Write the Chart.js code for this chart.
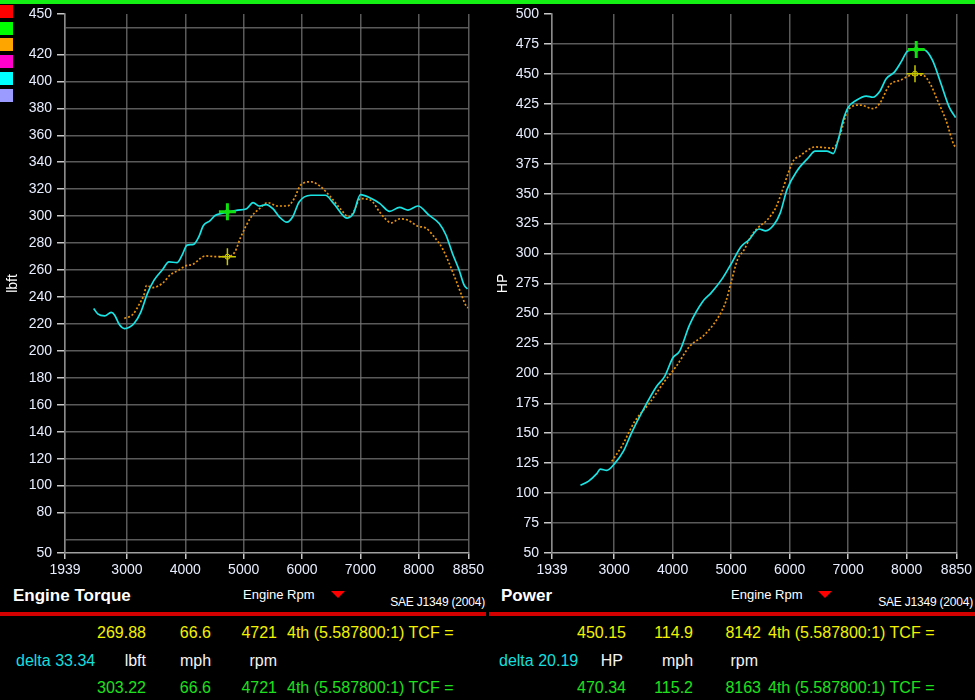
<!DOCTYPE html>
<html>
<head>
<meta charset="utf-8">
<script src="https://cdn.jsdelivr.net/npm/chart.js@4.4.1/dist/chart.umd.min.js"></script>
<style>
  html, body { margin: 0; padding: 0; background: #000; }
  body { width: 975px; height: 700px; position: relative; overflow: hidden;
         font-family: "Liberation Sans", Arial, sans-serif; }
  canvas { position: absolute; top: 0; }
  .t { position: absolute; white-space: nowrap; line-height: 1; font-size: 16px; }
  .y { color: #f2f200; }
  .g { color: #1ee01e; }
  .c { color: #12dede; }
  .w { color: #f4f4f4; }
  .head { font-size: 17px; font-weight: bold; color: #fff; }
  .small { font-size: 13px; color: #fff; }
  .sae { font-size: 12px; color: #fff; letter-spacing: -0.2px; }
  .tri { position: absolute; width: 0; height: 0; border-left: 7px solid transparent;
         border-right: 7px solid transparent; border-top: 7px solid #f00; }
  .bar { position: absolute; background: #d40000; height: 4px; top: 612px; }
  .sq { position: absolute; left: 0; width: 13px; height: 13px; }
</style>
</head>
<body>
<canvas id="torqueChart" width="487" height="585" style="left:0"></canvas>
<canvas id="powerChart" width="488" height="585" style="left:487px"></canvas>

<div style="position:absolute;left:0;top:0;width:975px;height:4px;background:#14f014"></div>
<div class="sq" style="top:5px;background:#ff0000"></div>
<div class="sq" style="top:22px;background:#00ff00"></div>
<div class="sq" style="top:38px;background:#ffa500"></div>
<div class="sq" style="top:55px;background:#ff00cc"></div>
<div class="sq" style="top:72px;background:#00ffff"></div>
<div class="sq" style="top:89px;background:#9a9aff"></div>

<!-- left footer -->
<div class="t head" style="left:13px;top:587px">Engine Torque</div>
<div class="t small" style="left:243px;top:588px">Engine Rpm</div>
<div class="tri" style="left:331px;top:591px"></div>
<div class="t sae" style="right:490px;top:596px">SAE J1349 (2004)</div>
<div class="bar" style="left:0;width:486px"></div>
<div class="t y" style="right:829px;top:625px">269.88</div>
<div class="t y" style="right:764px;top:625px">66.6</div>
<div class="t y" style="right:698px;top:625px">4721</div>
<div class="t y" style="left:287px;top:625px">4th (5.587800:1) TCF =</div>
<div class="t c" style="left:16px;top:653px">delta 33.34</div>
<div class="t w" style="right:829px;top:653px">lbft</div>
<div class="t w" style="left:180px;top:653px">mph</div>
<div class="t w" style="right:698px;top:653px">rpm</div>
<div class="t g" style="right:829px;top:680px">303.22</div>
<div class="t g" style="right:764px;top:680px">66.6</div>
<div class="t g" style="right:698px;top:680px">4721</div>
<div class="t g" style="left:287px;top:680px">4th (5.587800:1) TCF =</div>

<!-- right footer -->
<div class="t head" style="left:501px;top:587px">Power</div>
<div class="t small" style="left:731px;top:588px">Engine Rpm</div>
<div class="tri" style="left:818px;top:591px"></div>
<div class="t sae" style="right:2px;top:596px">SAE J1349 (2004)</div>
<div class="bar" style="left:489px;width:486px"></div>
<div class="t y" style="right:349px;top:625px">450.15</div>
<div class="t y" style="right:282px;top:625px">114.9</div>
<div class="t y" style="right:214px;top:625px">8142</div>
<div class="t y" style="left:768px;top:625px">4th (5.587800:1) TCF =</div>
<div class="t c" style="left:499px;top:653px">delta 20.19</div>
<div class="t w" style="right:352px;top:653px">HP</div>
<div class="t w" style="left:662px;top:653px">mph</div>
<div class="t w" style="right:217px;top:653px">rpm</div>
<div class="t g" style="right:349px;top:680px">470.34</div>
<div class="t g" style="right:282px;top:680px">115.2</div>
<div class="t g" style="right:214px;top:680px">8163</div>
<div class="t g" style="left:768px;top:680px">4th (5.587800:1) TCF =</div>

<script>
// axis ticks
const rpmTicks = [1939, 3000, 4000, 5000, 6000, 7000, 8000, 8850];
const torqueTicks = [50, 60, 80, 100, 120, 140, 160, 180, 200, 220, 240, 260, 280, 300,
                     320, 340, 360, 380, 400, 420, 440, 450];
const torqueHiddenLabels = [60, 440];
const powerTicks = [50, 75, 100, 125, 150, 175, 200, 225, 250, 275, 300, 325, 350, 375,
                    400, 425, 450, 475, 500];

// torque run (cyan, solid)
const torqueRpmCyan = [2430, 2500, 2620, 2730, 2790, 2870, 2960, 3040, 3125, 3240, 3350, 3465,
  3605, 3720, 3860, 3945, 4030, 4140, 4230, 4310, 4420, 4510, 4620, 4720, 4900, 5050, 5160,
  5270, 5385, 5500, 5610, 5740, 5840, 5950, 6150, 6400, 6540, 6770, 6880, 7000, 7170, 7330,
  7500, 7670, 7815, 7985, 8180, 8350, 8465, 8575, 8690, 8775, 8835];
const torqueCyan = [231.5, 227.5, 226, 228.5, 226.5, 219.5, 216.5, 217.5, 220.5, 229, 242.5, 252.5,
  260, 266, 265.5, 271, 278.5, 279, 284.5, 293, 296.5, 300.5, 302, 303, 304.5, 305.5, 310,
  307.5, 308.5, 305.5, 299.5, 295.5, 299.5, 310.5, 315.5, 315.5, 309.5, 298.5, 302, 316, 313.5, 309.5,
  303.5, 306.5, 304.5, 307.5, 300.5, 294.5, 286, 272.5, 260, 249, 246];

// torque run (orange, dotted)
const torqueRpmOrange = [2955, 3100, 3210, 3295, 3335, 3435, 3605, 3745, 3890, 4000, 4140, 4255,
  4340, 4510, 4720, 4850, 4950, 5130, 5270, 5410, 5580, 5750, 5865, 5975, 6150, 6315, 6485,
  6655, 6800, 6880, 7000, 7170, 7330, 7415, 7530, 7670, 7815, 7985, 8125, 8265, 8405, 8520,
  8635, 8745, 8815, 8846];
const torqueOrange = [224, 227, 234.5, 242, 248.5, 247, 250, 256.5, 260, 263, 264.5, 268.5,
  270.5, 270, 270, 273.5, 284.5, 299.5, 305.5, 310, 307.5, 307.5, 313, 323, 325.5, 322, 314.5,
  305.5, 299.5, 303, 313, 312, 303, 298.5, 295, 298, 297, 292.5, 291, 284.5, 276, 265,
  252.5, 240, 233, 232];

// power run (cyan, solid)
const powerRpmCyan = [2425, 2565, 2700, 2765, 2875, 3015, 3160, 3300, 3470, 3725, 3865, 4005,
  4120, 4290, 4515, 4655, 4855, 5025, 5165, 5305, 5475, 5590, 5730, 5840, 5955, 6125, 6320,
  6435, 6635, 6745, 6830, 6915, 7000, 7140, 7310, 7425, 7535, 7650, 7790, 7905, 8015, 8160,
  8300, 8440, 8585, 8725, 8835];
const powerCyan = [106.5, 110, 116, 120, 119, 125, 135, 150.5, 167, 189, 197.5, 213,
  218.5, 240.5, 260, 267, 279.5, 293.5, 305.5, 311.5, 320.5, 319, 324, 334, 353.5, 369, 380,
  385.5, 385.5, 383.5, 395, 411.5, 422, 428, 431.5, 430.5, 435, 446, 451.5, 460, 469, 470.5,
  470, 461.5, 442, 422.5, 413.5];

// power run (orange, dotted)
const powerRpmOrange = [2960, 3130, 3355, 3610, 3865, 4065, 4290, 4540, 4770, 4910, 4995, 5110,
  5220, 5335, 5445, 5615, 5760, 5870, 5985, 6070, 6180, 6240, 6435, 6745, 6860, 7000, 7200,
  7425, 7535, 7705, 7905, 8100, 8270, 8415, 8525, 8670, 8810, 8850];
const powerOrange = [126.5, 139, 160, 175.5, 193.5, 206, 222.5, 232, 246, 260, 275, 295,
  303, 314, 321, 328, 338, 352, 368.5, 378, 381.5, 384, 389, 388, 399, 420, 424,
  421, 425, 440.5, 445, 449, 449, 440.5, 428, 411.5, 390.5, 389];

// cursor readouts
const torqueMarkerYellow = { rpm: 4721, value: 269.88 };
const torqueMarkerGreen = { rpm: 4721, value: 303.22 };
const powerMarkerYellow = { rpm: 8142, value: 450.15 };
const powerMarkerGreen = { rpm: 8163, value: 470.34 };

Chart.defaults.font.family = '"Liberation Sans", Arial, sans-serif';
Chart.defaults.font.size = 14;
Chart.defaults.color = '#e8eeff';

const CYAN = '#1ae3e3';
const ORANGE = '#e8920a';
const GRID = 'rgba(120,120,120,0.75)';
const CLEAR = 'rgba(0,0,0,0)';

function pts(xs, ys) {
  return xs.map((x, i) => ({ x: x, y: ys[i] }));
}

function markerSets(yellow, green) {
  return [
    { data: [{ x: green.rpm, y: green.value }], showLine: false, pointStyle: 'cross',
      pointRadius: 8.5, borderColor: '#10e010', borderWidth: 3, order: 0 },
    { data: [{ x: green.rpm, y: green.value }], showLine: false, pointStyle: 'rect',
      pointRadius: 2.5, borderColor: '#10e010', backgroundColor: '#0a500a', borderWidth: 1, order: 0 },
    { data: [{ x: yellow.rpm, y: yellow.value }], showLine: false, pointStyle: 'cross',
      pointRadius: 8.5, borderColor: '#c8c800', borderWidth: 1.5, order: 0 },
    { data: [{ x: yellow.rpm, y: yellow.value }], showLine: false, pointStyle: 'circle',
      pointRadius: 2.5, borderColor: '#d8d800', backgroundColor: '#000', borderWidth: 1, order: 0 }
  ];
}

function makeChart(id, title, titlePad, yTicks, hiddenLabels, cyanPts, orangePts, markers) {
  const yMin = yTicks[0], yMax = yTicks[yTicks.length - 1];
  return new Chart(document.getElementById(id), {
    type: 'line',
    data: {
      datasets: [
        { data: cyanPts, borderColor: CYAN, borderWidth: 1.7, pointRadius: 0,
          cubicInterpolationMode: 'monotone', order: 1 },
        { data: orangePts, borderColor: ORANGE, borderWidth: 1.7, borderDash: [2, 2],
          pointRadius: 0, cubicInterpolationMode: 'monotone', order: 2 }
      ].concat(markers)
    },
    options: {
      responsive: false,
      animation: false,
      devicePixelRatio: 1,
      layout: { padding: { top: 14, right: 17, left: 0, bottom: 0 } },
      plugins: { legend: { display: false }, tooltip: { enabled: false } },
      scales: {
        x: {
          type: 'linear', min: rpmTicks[0], max: rpmTicks[rpmTicks.length - 1],
          afterBuildTicks: s => { s.ticks = rpmTicks.map(v => ({ value: v })); },
          afterFit: s => { s.height = 32; },
          ticks: { callback: v => String(v), maxRotation: 0, autoSkip: false, padding: 3 },
          grid: { color: GRID, lineWidth: 1.5, tickColor: '#c8c8c8', tickLength: 6 },
          border: { color: '#a0a0a0', width: 1.5 }
        },
        y: {
          type: 'linear', min: yMin, max: yMax,
          afterBuildTicks: s => { s.ticks = yTicks.map(v => ({ value: v })); },
          afterFit: s => { s.width = 65; },
          ticks: { callback: v => hiddenLabels.includes(v) ? '' : String(v), autoSkip: false, padding: 5 },
          grid: {
            color: c => (c.tick && (c.tick.value === yMin || c.tick.value === yMax)) ? CLEAR : GRID,
            tickColor: c => (c.tick && hiddenLabels.includes(c.tick.value)) ? CLEAR : '#c8c8c8',
            lineWidth: 1.5, tickLength: 8
          },
          border: { color: '#8a8a8a', width: 1.5 },
          title: { display: true, text: title, color: '#fff', font: { size: 14 },
                   padding: { top: titlePad, bottom: 0 } }
        }
      }
    }
  });
}

makeChart('torqueChart', 'lbft', 5, torqueTicks, torqueHiddenLabels,
  pts(torqueRpmCyan, torqueCyan), pts(torqueRpmOrange, torqueOrange),
  markerSets(torqueMarkerYellow, torqueMarkerGreen));

makeChart('powerChart', 'HP', 8, powerTicks, [],
  pts(powerRpmCyan, powerCyan), pts(powerRpmOrange, powerOrange),
  markerSets(powerMarkerYellow, powerMarkerGreen));
</script>
</body>
</html>
